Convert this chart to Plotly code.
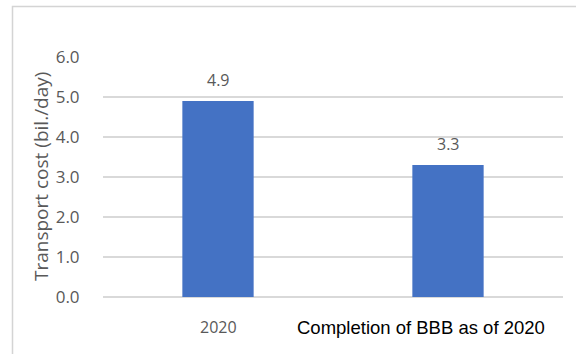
import plotly.graph_objects as go

categories = ["2020", "Completion of BBB as of 2020"]
values = [4.9, 3.3]
value_labels = ["4.9", "3.3"]
y_ticks = [0, 1, 2, 3, 4, 5, 6]
y_tick_labels = ["0.0", "1.0", "2.0", "3.0", "4.0", "5.0", "6.0"]
y_title = "Transport cost (bil./day)"

W, H = 576, 354
L, R, T, B = 103, 13, 57, 57
pw, ph = W - L - R, H - T - B

def px_x(px):
    return (px - L) / pw

def px_y(py):
    return (H - B - py) / ph

fig = go.Figure()
fig.add_trace(go.Bar(
    x=categories, y=values, marker_color="#4472C4", width=0.31,
    marker_line_width=0, hoverinfo="skip"
))

# data labels (category index positions)
for i, (v, t) in enumerate(zip(values, value_labels)):
    fig.add_annotation(x=i, y=v, text=t, showarrow=False, xref="x", yref="y",
                       xanchor="center", yanchor="bottom", yshift=8,
                       font=dict(family="Open Sans", size=16, color="#595959"))

# category labels
fig.add_annotation(x=0, y=px_y(326.5), xref="x", yref="paper",
                   text=categories[0], showarrow=False, xanchor="center", yanchor="middle",
                   font=dict(family="Open Sans", size=16, color="#595959"))
fig.add_annotation(x=1, y=px_y(327), xref="x", yref="paper",
                   text=categories[1], showarrow=False, xanchor="center", yanchor="middle",
                   xshift=-27,
                   font=dict(family="Liberation Sans, Arial", size=18.5, color="#000000"))

# y axis title
fig.add_annotation(x=px_x(41), y=px_y(177), xref="paper", yref="paper",
                   text=y_title, textangle=-90, showarrow=False,
                   xanchor="center", yanchor="middle",
                   font=dict(family="Open Sans", size=19, color="#595959"))

# chart border
fig.add_shape(type="rect", xref="paper", yref="paper",
              x0=px_x(12.5), x1=px_x(590), y0=px_y(370), y1=px_y(6.5),
              line=dict(color="#d4d4d4", width=1.5), fillcolor="rgba(0,0,0,0)", layer="below")

fig.update_layout(
    width=W, height=H,
    margin=dict(l=L, r=R, t=T, b=B, pad=0),
    paper_bgcolor="white", plot_bgcolor="white",
    showlegend=False,
    xaxis=dict(type="category", range=[-0.5, 1.5], showticklabels=False, showgrid=False,
               zeroline=False, showline=False, ticks=""),
    yaxis=dict(range=[0, 6], tickvals=y_ticks, ticktext=y_tick_labels,
               showgrid=True, gridcolor="#d9d9d9", gridwidth=1.5,
               zeroline=True, zerolinecolor="#d9d9d9", zerolinewidth=1.5,
               showline=False, ticks="outside", ticklen=19, tickcolor="rgba(0,0,0,0)",
               tickfont=dict(family="Open Sans", size=17, color="#595959")),
)

fig.write_html("out.html")
